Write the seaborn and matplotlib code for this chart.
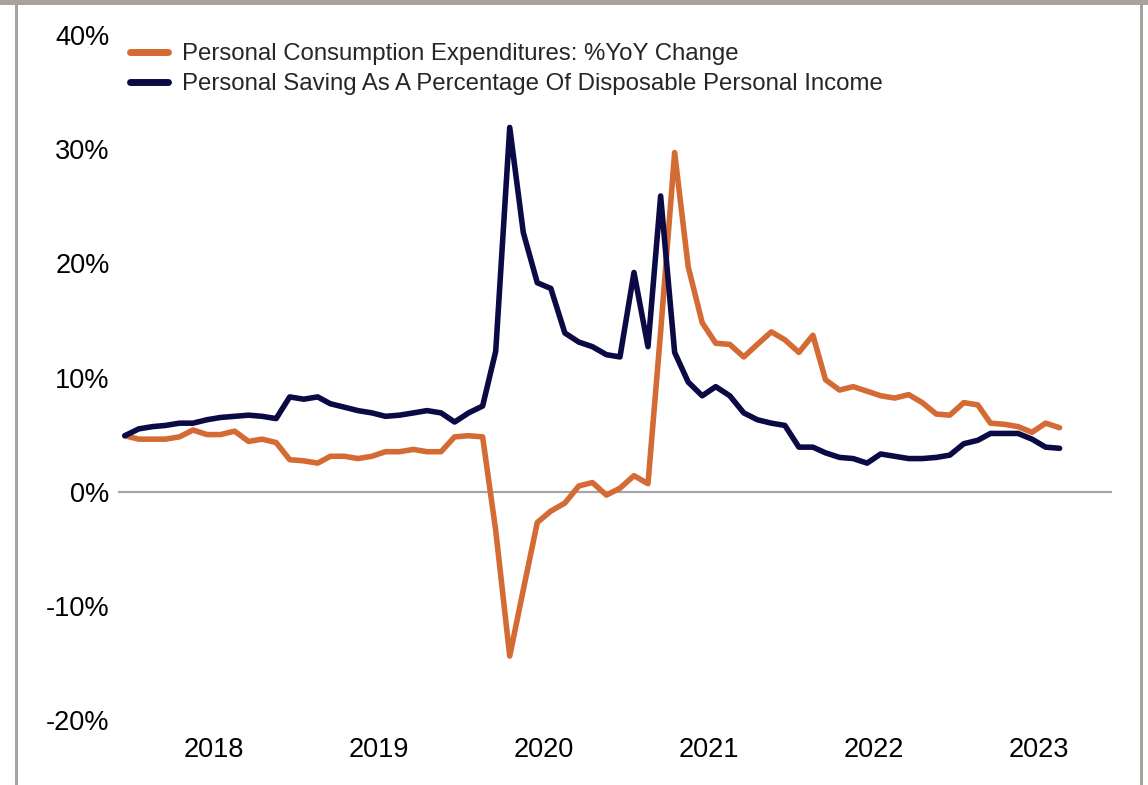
import numpy as np
import pandas as pd
import matplotlib
matplotlib.use("Agg")
import matplotlib.pyplot as plt
import seaborn as sns
from matplotlib.lines import Line2D
from matplotlib.ticker import FuncFormatter

# ---- data (monthly, Dec 2017 .. Aug 2023) ----
start_month = "2017-12-01"
pce_yoy = [4.9, 4.6, 4.6, 4.6, 4.8, 5.4, 5.0, 5.0, 5.3, 4.4, 4.6, 4.3,
           2.8, 2.7, 2.5, 3.1, 3.1, 2.9, 3.1, 3.5, 3.5, 3.7, 3.5, 3.5,
           4.8, 4.9, 4.8, -3.4, -14.4, -8.6, -2.7, -1.7, -1.0, 0.5, 0.8, -0.3,
           0.3, 1.4, 0.7, 14.0, 29.7, 19.7, 14.8, 13.0, 12.9, 11.8, 12.9, 14.0,
           13.3, 12.2, 13.7, 9.8, 8.9, 9.2, 8.8, 8.4, 8.2, 8.5, 7.8, 6.8,
           6.7, 7.8, 7.6, 6.0, 5.9, 5.7, 5.2, 6.0, 5.6]
saving_rate = [4.9, 5.5, 5.7, 5.8, 6.0, 6.0, 6.3, 6.5, 6.6, 6.7, 6.6, 6.4,
               8.3, 8.1, 8.3, 7.7, 7.4, 7.1, 6.9, 6.6, 6.7, 6.9, 7.1, 6.9,
               6.1, 6.9, 7.5, 12.3, 31.9, 22.7, 18.3, 17.8, 13.9, 13.1, 12.7, 12.0,
               11.8, 19.2, 12.7, 25.9, 12.2, 9.6, 8.4, 9.2, 8.4, 6.9, 6.3, 6.0,
               5.8, 3.9, 3.9, 3.4, 3.0, 2.9, 2.5, 3.3, 3.1, 2.9, 2.9, 3.0,
               3.2, 4.2, 4.5, 5.1, 5.1, 5.1, 4.6, 3.9, 3.8]
series_names = ["Personal Consumption Expenditures: %YoY Change",
                "Personal Saving As A Percentage Of Disposable Personal Income"]
year_labels = ["2018", "2019", "2020", "2021", "2022", "2023"]
y_ticks = [-20, -10, 0, 10, 20, 30, 40]

colors = {series_names[0]: "#D46A34", series_names[1]: "#0B0A45"}

dates = pd.date_range(start_month, periods=len(pce_yoy), freq="MS")
df = pd.DataFrame({"date": dates, series_names[0]: pce_yoy, series_names[1]: saving_rate})
long = df.melt(id_vars="date", var_name="series", value_name="value")

sns.set_style("white")
plt.rcParams["font.family"] = ["Liberation Sans", "DejaVu Sans"]

fig = plt.figure(figsize=(11.48, 7.85), dpi=100)
W, H = 1148, 785
ax = fig.add_axes([118 / W, 1 - 720 / H, (1112 - 118) / W, (720 - 35) / H])

sns.lineplot(data=long, x="date", y="value", hue="series", palette=colors,
             hue_order=series_names, linewidth=4.0, ax=ax, legend=False,
             solid_capstyle="round", solid_joinstyle="round")

ax.axhline(0, color="#A6A6A6", lw=1.6, zorder=0)

# axis limits: half month before first point, ~72 months span
x0 = dates[0] - pd.Timedelta(days=15)
x1 = dates[0] + pd.Timedelta(days=int(71.8 * 30.44))
ax.set_xlim(x0, x1)
ax.set_ylim(-20, 40)

xt = [pd.Timestamp(f"{y}-06-16") for y in year_labels]
ax.set_xticks(xt)
ax.set_xticklabels(year_labels)
ax.set_yticks(y_ticks)
ax.yaxis.set_major_formatter(FuncFormatter(lambda v, p: f"{int(v)}%"))
ax.tick_params(axis="both", length=0, labelsize=19.5, colors="#000000")
ax.tick_params(axis="x", pad=12)
ax.tick_params(axis="y", pad=6)
ax.set_xlabel("")
ax.set_ylabel("")
for s in ax.spines.values():
    s.set_visible(False)

handles = [Line2D([0], [0], color=colors[n], lw=5, solid_capstyle="round") for n in series_names]
ax.legend(handles, series_names, loc="upper left", bbox_to_anchor=(0.012, 0.988),
          frameon=False, fontsize=17.3, handlelength=1.6, handletextpad=0.55,
          labelspacing=0.33, borderaxespad=0, borderpad=0)

# outer gray frame (top, left, right)
frame_c = "#A8A29A"
fig.add_artist(plt.Rectangle((0, 1 - 5 / H), 1, 5 / H, transform=fig.transFigure,
                             color=frame_c, lw=0))
fig.add_artist(plt.Rectangle((15 / W, 0), 3 / W, 1, transform=fig.transFigure,
                             color=frame_c, lw=0))
fig.add_artist(plt.Rectangle((1140 / W, 0), 3 / W, 1, transform=fig.transFigure,
                             color=frame_c, lw=0))

fig.savefig("out.png", dpi=100)
